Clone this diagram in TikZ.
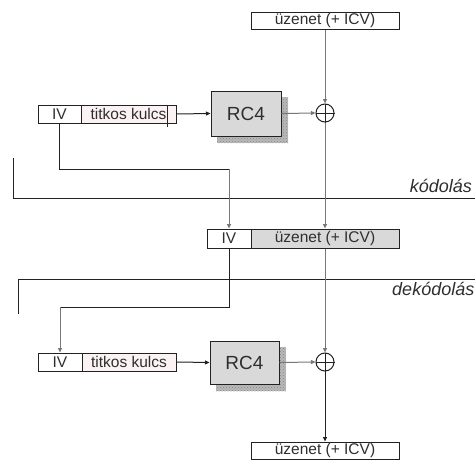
\documentclass[tikz,border=0pt]{standalone}
\usepackage{fontspec}
\setmainfont{Liberation Sans}
\usetikzlibrary{arrows.meta,patterns}
\definecolor{txt}{HTML}{2E2E2E}
\definecolor{ln}{HTML}{222222}
\definecolor{lg}{HTML}{777777}
\definecolor{boxgray}{HTML}{D9D9D9}
\definecolor{pinkish}{HTML}{FBF3F3}
\begin{document}
\begin{tikzpicture}[x=1pt,y=-1pt,
  cell/.style={draw=ln,line width=1pt,inner sep=0pt,text=txt,font=\fontsize{15.5}{15.5}\selectfont},
  rcbox/.style={draw=ln,line width=1pt,fill=boxgray,inner sep=0pt,text=txt,font=\fontsize{19}{19}\selectfont},
  xorn/.style={draw=ln,line width=1pt,circle,minimum size=18pt,inner sep=0pt},
  arr/.style={-{Triangle[length=4.5pt,width=4pt]},line width=1pt},
  lbl/.style={text=txt,font=\fontsize{18}{18}\selectfont\itshape,inner sep=0pt}
]
\useasboundingbox (0,0) rectangle (475,461);
\fill[white] (0,0) rectangle (475,461);

% ---------- top (coding) ----------
\node[cell,minimum width=148pt,minimum height=17pt] (msgA) at (325,20.5) {üzenet (+ ICV)};
\node[cell,minimum width=43pt,minimum height=18pt] (ivA) at (59.5,114) {IV};
\node[cell,fill=pinkish,minimum width=95pt,minimum height=18pt] (keyA) at (128.5,114) {titkos kulcs};
\draw[ln,line width=1pt] (167,105) -- (167,127);
\fill[gray!55] (217,97) rectangle (288,143);
\fill[pattern=crosshatch dots,pattern color=gray!95] (217,97) rectangle (288,143);
\node[rcbox,minimum width=70pt,minimum height=45pt] (rcA) at (246,113.5) {RC4};
\node[xorn] (xA) at (325,113) {};
\draw[ln,line width=1pt] (xA.west) -- (xA.east) (xA.north) -- (xA.south);

\draw[arr,ln] (keyA.east) -- (rcA.west);
\draw[arr,lg] (rcA.east) -- (xA.west);
\draw[arr,lg] (msgA.south) -- (xA.north);

% separator coding
\coordinate (sepAl) at (13,198);
\coordinate (sepAt) at (13,158);
\coordinate (sepAr) at (475,198);
\draw[ln,line width=1pt] (sepAt) -- (sepAl) -- (sepAr);
\node[lbl,anchor=base east] (kod) at (472,192) {kódolás};

% ---------- middle (transmitted) ----------
\node[cell,minimum width=44pt,minimum height=19pt] (ivM) at (229,238.5) {IV};
\node[cell,fill=boxgray,minimum width=148pt,minimum height=19pt] (msgM) at (325,238.5) {üzenet (+ ICV)};

\coordinate (bendA) at (229,169);
\draw[ln,line width=1pt] (ivA.south) |- (bendA);
\draw[arr,lg] (bendA) -- (ivM.north);
\draw[arr,lg] (xA.south) -- (msgM.north);

% separator decoding
\coordinate (sepBl) at (18,279);
\coordinate (sepBb) at (18,314);
\coordinate (sepBr) at (475,279);
\draw[ln,line width=1pt] (sepBb) -- (sepBl) -- (sepBr);
\node[lbl,anchor=base east] (dekod) at (474.5,295) {dekódolás};

% ---------- bottom (decoding) ----------
\node[cell,minimum width=44pt,minimum height=18pt] (ivB) at (60,362) {IV};
\node[cell,fill=pinkish,minimum width=94pt,minimum height=18pt] (keyB) at (129,362) {titkos kulcs};
\fill[gray!55] (216,347) rectangle (286,391);
\fill[pattern=crosshatch dots,pattern color=gray!95] (216,347) rectangle (286,391);
\node[rcbox,minimum width=69pt,minimum height=43pt] (rcB) at (244.5,362.5) {RC4};
\node[xorn] (xB) at (325,362) {};
\draw[ln,line width=1pt] (xB.west) -- (xB.east) (xB.north) -- (xB.south);
\node[cell,minimum width=148pt,minimum height=17pt] (msgC) at (325,450.5) {üzenet (+ ICV)};

\coordinate (bendB) at (60,307);
\draw[ln,line width=1pt] (ivM.south) |- (bendB);
\draw[arr,lg] (bendB) -- (ivB.north);
\draw[arr,ln] (keyB.east) -- (rcB.west);
\draw[arr,lg] (rcB.east) -- (xB.west);
\draw[arr,lg] (msgM.south) -- (xB.north);
\draw[arr,ln] (xB.south) -- (msgC.north);
\end{tikzpicture}
\end{document}
